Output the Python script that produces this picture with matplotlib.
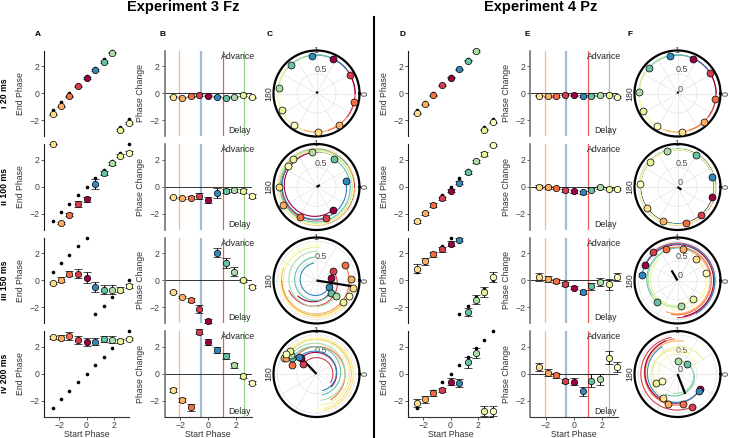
import numpy as np
import matplotlib
matplotlib.use("Agg")
import matplotlib.pyplot as plt
from matplotlib.lines import Line2D

plt.rcParams.update({
    "font.family": ["Liberation Sans", "DejaVu Sans"],
    "font.size": 6.3,
    "axes.linewidth": 0.8,
    "xtick.labelsize": 6.3,
    "ytick.labelsize": 6.3,
})

# start phase bins (rad) and their colours
START = [-2.51, -1.88, -1.26, -0.63, 0.0, 0.63, 1.26, 1.88, 2.51, 3.14]
COLORS = ["#fee08b", "#fdae61", "#f46d43", "#d53e4f", "#9e0142",
          "#3288bd", "#66c2a5", "#abdda4", "#e6f598", "#ffffbf"]
ROW_LABELS = ["i 20 ms", "ii 100 ms", "iii 150 ms", "iv 200 ms"]

# expected end phase without stimulation (black dots)
EXPECTED = [
    [-1.26, -0.63, 0.0, 0.63, 1.26, 1.88, 2.51, 3.14, -2.51, -1.88],
    [-2.51, -1.88, -1.26, -0.63, 0.0, 0.63, 1.26, 1.88, 2.51, 3.14],
    [0.63, 1.26, 1.88, 2.51, 3.14, -2.51, -1.88, -1.26, -0.63, 0.0],
    [-2.51, -1.88, -1.26, -0.63, 0.0, 0.63, 1.26, 1.88, 2.51, 3.14],
]

# ---- Experiment 3 Fz ----
fz_end = [
    [-1.53, -0.95, -0.23, 0.51, 1.13, 1.70, 2.29, 2.99, -2.69, -2.19],
    [3.14, -2.65, -2.06, -1.27, -0.93, 0.20, 1.00, 1.71, 2.28, 2.50],
    [-0.20, 0.05, 0.49, 0.49, 0.17, -0.49, -0.68, -0.68, -0.68, -0.44],
    [2.69, 2.66, 2.78, 2.49, 2.36, 2.36, 2.56, 2.51, 2.43, 2.56],
]
fz_end_err = [
    [0.04, 0.04, 0.04, 0.05, 0.05, 0.05, 0.05, 0.05, 0.05, 0.05],
    [0.03, 0.08, 0.10, 0.20, 0.20, 0.35, 0.15, 0.10, 0.12, 0.12],
    [0.10, 0.20, 0.20, 0.35, 0.40, 0.35, 0.35, 0.30, 0.15, 0.15],
    [0.10, 0.20, 0.30, 0.30, 0.30, 0.25, 0.20, 0.25, 0.15, 0.10],
]
fz_change = [
    [-0.25, -0.32, -0.22, -0.12, -0.17, -0.25, -0.32, -0.25, -0.12, -0.30],
    [-0.76, -0.80, -0.80, -0.68, -0.98, -0.46, -0.31, -0.27, -0.31, -0.68],
    [-0.86, -1.23, -1.47, -2.10, -3.00, 2.03, 1.27, 0.64, 0.00, -0.46],
    [-1.20, -1.90, -2.46, 3.10, 2.34, 1.74, 1.29, 0.62, -0.15, -0.65],
]
fz_change_err = [
    [0.04, 0.04, 0.04, 0.05, 0.05, 0.05, 0.05, 0.05, 0.05, 0.05],
    [0.03, 0.08, 0.10, 0.20, 0.20, 0.35, 0.15, 0.10, 0.12, 0.12],
    [0.10, 0.10, 0.15, 0.30, 0.15, 0.35, 0.35, 0.30, 0.10, 0.10],
    [0.12, 0.15, 0.25, 0.20, 0.25, 0.20, 0.20, 0.20, 0.15, 0.12],
]
fz_vec_r = [
    [0.98, 0.98, 0.98, 0.98, 0.98, 0.98, 0.98, 0.98, 0.98, 0.98],
    [0.97, 0.97, 0.88, 0.84, 0.72, 0.76, 0.84, 0.90, 0.94, 0.91],
    [0.96, 0.89, 0.83, 0.49, 0.37, 0.36, 0.49, 0.64, 0.87, 0.93],
    [0.92, 0.88, 0.68, 0.42, 0.57, 0.62, 0.75, 0.82, 0.90, 0.93],
]
fz_curve_start = [
    [-144, -108, -72, -36, 0, 36, 72, 108, 144, 180],
    [-144, -108, -72, -36, 0, 36, 72, 108, 144, 180],
    [150, 160, 180, 200, 220, 100, 95, 90, 85, 80],
    [-80, -75, -60, -30, -40, -70, -75, -80, -85, -90],
]
fz_curve_r0 = [
    [0.99, 0.99, 0.99, 0.99, 0.99, 0.99, 0.99, 0.99, 0.99, 0.99],
    [0.97, 0.97, 0.97, 0.97, 0.97, 0.97, 0.97, 0.97, 0.97, 0.97],
    [0.92, 0.90, 0.88, 0.75, 0.62, 0.45, 0.60, 0.75, 0.85, 0.92],
    [0.95, 0.90, 0.75, 0.42, 0.50, 0.45, 0.55, 0.68, 0.80, 0.90],
]
fz_mean_ang = [1.0, 0.5, -0.16, 2.33]
fz_mean_r = [0.06, 0.10, 0.92, 0.55]

# ---- Experiment 4 Pz ----
pz_end = [
    [-1.46, -0.82, -0.15, 0.57, 1.14, 1.76, 2.40, 3.10, -2.67, -2.13],
    [-2.55, -1.96, -1.35, -0.86, -0.29, 0.29, 1.05, 1.86, 2.40, 3.07],
    [0.86, 1.40, 1.91, 2.28, 2.70, 2.99, -2.33, -1.42, -0.86, 0.25],
    [-2.12, -1.87, -1.40, -1.17, -0.57, -0.65, 0.84, 1.54, -2.74, -2.74],
]
pz_end_err = [
    [0.04, 0.04, 0.04, 0.05, 0.05, 0.05, 0.05, 0.05, 0.05, 0.05],
    [0.10, 0.10, 0.12, 0.12, 0.12, 0.12, 0.10, 0.10, 0.12, 0.10],
    [0.30, 0.25, 0.20, 0.20, 0.20, 0.10, 0.30, 0.35, 0.40, 0.35],
    [0.30, 0.25, 0.20, 0.15, 0.25, 0.30, 0.40, 0.35, 0.40, 0.35],
]
pz_change = [
    [-0.17, -0.22, -0.20, -0.10, -0.15, -0.20, -0.17, -0.15, -0.10, -0.27],
    [0.00, -0.05, -0.10, -0.25, -0.34, -0.42, -0.22, -0.05, -0.17, -0.17],
    [0.25, 0.10, -0.07, -0.29, -0.54, -0.83, -0.44, -0.12, -0.29, 0.25],
    [0.50, 0.07, -0.12, -0.50, -0.57, -1.30, -0.50, -0.40, 1.19, 0.50],
]
pz_change_err = [
    [0.04, 0.04, 0.04, 0.05, 0.05, 0.05, 0.05, 0.05, 0.05, 0.05],
    [0.12, 0.10, 0.10, 0.10, 0.10, 0.10, 0.10, 0.12, 0.10, 0.10],
    [0.30, 0.20, 0.15, 0.15, 0.10, 0.15, 0.25, 0.30, 0.40, 0.30],
    [0.30, 0.25, 0.20, 0.15, 0.25, 0.30, 0.45, 0.40, 0.45, 0.35],
]
pz_vec_r = [
    [0.98, 0.98, 0.98, 0.98, 0.98, 0.98, 0.98, 0.98, 0.98, 0.98],
    [0.95, 0.95, 0.95, 0.94, 0.93, 0.93, 0.94, 0.95, 0.95, 0.95],
    [0.73, 0.82, 0.85, 0.96, 0.91, 0.92, 0.76, 0.67, 0.62, 0.74],
    [0.71, 0.80, 0.79, 0.92, 0.69, 0.70, 0.35, 0.33, 0.60, 0.43],
]
pz_curve_start = [
    [-144, -108, -72, -36, 0, 36, 72, 108, 144, 180],
    [-144, -108, -72, -36, 0, 36, 72, 108, 144, 180],
    [-100, -110, -100, -90, -80, -60, 60, 120, 130, -150],
    [60, 80, 95, 100, 110, 120, -120, -100, 30, 20],
]
pz_curve_r0 = [
    [0.99, 0.99, 0.99, 0.99, 0.99, 0.99, 0.99, 0.99, 0.99, 0.99],
    [0.97, 0.97, 0.97, 0.97, 0.97, 0.97, 0.97, 0.97, 0.97, 0.97],
    [0.75, 0.85, 0.88, 0.95, 0.93, 0.97, 0.85, 0.80, 0.72, 0.75],
    [0.60, 0.85, 0.90, 0.95, 0.90, 0.80, 0.60, 0.50, 0.75, 0.60],
]
pz_mean_ang = [1.2, -0.6, 2.1, -1.2]
pz_mean_r = [0.05, 0.12, 0.30, 0.55]

# boundaries shown as vertical lines in the phase-change panels
VLINE_COLORS = ["#fdb97d", "#a3bdd8", "#ef5b55", "#92d38c"]
VLINE_WIDTHS = [0.9, 1.6, 0.9, 0.9]
fz_vlines = [-2.08, -0.50, 1.05, 2.60]
pz_vlines = [-2.10, -0.58, 1.01, 2.56]

W, H = 729, 438
fig = plt.figure(figsize=(W / 100, H / 100), dpi=100)

ROW_TOP = [50.5, 144.0, 237.5, 331.0]
ROW_H = 85.5


def box(left, top, w, h):
    return [left / W, 1 - (top + h) / H, w / W, h / H]


def style_cart(ax, row, spine_color):
    ax.set_xlim(-np.pi, np.pi)
    ax.set_ylim(-np.pi, np.pi)
    ax.set_yticks([-2, 0, 2])
    ax.set_xticks([-2, 0, 2])
    for s in ["top", "right"]:
        ax.spines[s].set_visible(False)
    ax.spines["left"].set_color(spine_color)
    ax.spines["bottom"].set_color("0.2")
    ax.tick_params(length=2, width=0.6, pad=1.5, colors="0.25")
    if row < 3:
        ax.spines["bottom"].set_visible(False)
        ax.tick_params(axis="x", bottom=False, labelbottom=False)
    else:
        ax.set_xlabel("Start Phase", color="0.2", labelpad=0)


def points(ax, vals, errs):
    for k in range(10):
        ax.errorbar(START[k], vals[k], yerr=errs[k], fmt="o", ms=4.6,
                    mfc=COLORS[k], mec="k", mew=0.5, ecolor="k",
                    elinewidth=0.7, capsize=2.6, capthick=0.7, zorder=3,
                    clip_on=False)


def draw_end(ax, row, end, err):
    style_cart(ax, row, "0.1")
    ax.plot(START, EXPECTED[row], "o", ms=1.6, color="k", zorder=2, clip_on=False)
    points(ax, end, err)
    ax.set_ylabel("End Phase", color="0.2", labelpad=3)


def draw_change(ax, row, change, err, vlines):
    style_cart(ax, row, "0.45")
    ax.spines["left"].set_linewidth(1.2)
    for xv, c, lw in zip(vlines, VLINE_COLORS, VLINE_WIDTHS):
        ax.axvline(xv, color=c, lw=lw, zorder=1)
    ax.axhline(0, color="0.2", lw=0.7, zorder=1)
    points(ax, change, err)
    ax.set_ylabel("Phase Change", color="0.2", labelpad=3)
    ax.text(1.04, 0.93, "Advance", transform=ax.transAxes, ha="right", va="center", color="0.15")
    ax.text(0.99, 0.06, "Delay", transform=ax.transAxes, ha="right", va="center", color="0.15")


def draw_polar(ax, end, vec_r, c_start, c_r0, m_ang, m_r, show_zero):
    ax.set_ylim(0, 1.1)
    ax.set_xticks(np.deg2rad(np.arange(0, 360, 30)))
    ax.set_xticklabels([])
    if show_zero:
        ax.set_yticks([0, 0.5, 1])
        ax.set_yticklabels(["0", "0.5", "1"])
    else:
        ax.set_yticks([0.5, 1])
        ax.set_yticklabels(["0.5", "1"])
    ax.set_rlabel_position(95)
    ax.tick_params(axis="y", labelsize=6.5, labelcolor="0.3", pad=0)
    ax.tick_params(axis="x", pad=0)
    ax.grid(color="#e4e4e4", lw=0.5)
    ax.spines["polar"].set_linewidth(1.6)
    for k in range(10):
        th0 = np.deg2rad(c_start[k])
        th1 = th0 + np.mod(end[k] - th0, 2 * np.pi)
        ln, = ax.plot([th0, th1], [c_r0[k], vec_r[k]], color=COLORS[k], lw=0.8, zorder=2)
        ln.get_path()._interpolation_steps = 180
    ax.plot([m_ang, m_ang], [0, m_r], color="k", lw=1.6, zorder=4,
            solid_capstyle="butt")
    for k in range(10):
        ax.plot(end[k], vec_r[k], "o", ms=5, mfc=COLORS[k], mec="k", mew=0.5,
                zorder=5, clip_on=False)
    ax.text(0, 1.24, "0", rotation=90, ha="center", va="center", color="0.2")
    ax.text(np.pi, 1.22, "180", rotation=90, ha="center", va="center", color="0.2")


experiments = [
    dict(end=fz_end, end_err=fz_end_err, change=fz_change, change_err=fz_change_err,
         vec_r=fz_vec_r, cs=fz_curve_start, cr=fz_curve_r0, ma=fz_mean_ang, mr=fz_mean_r,
         vlines=fz_vlines, xa=44, xb=164.5, xc=316.5, zero=False),
    dict(end=pz_end, end_err=pz_end_err, change=pz_change, change_err=pz_change_err,
         vec_r=pz_vec_r, cs=pz_curve_start, cr=pz_curve_r0, ma=pz_mean_ang, mr=pz_mean_r,
         vlines=pz_vlines, xa=408, xb=530, xc=677.5, zero=True),
]

for e in experiments:
    for row in range(4):
        top = ROW_TOP[row]
        ax_a = fig.add_axes(box(e["xa"], top, 85, ROW_H))
        draw_end(ax_a, row, e["end"][row], e["end_err"][row])
        ax_b = fig.add_axes(box(e["xb"], top, 87.5, ROW_H))
        draw_change(ax_b, row, e["change"][row], e["change_err"][row], e["vlines"])
        ax_c = fig.add_axes(box(e["xc"] - 43, top, 86, 86), projection="polar")
        draw_polar(ax_c, e["end"][row], e["vec_r"][row], e["cs"][row], e["cr"][row],
                   e["ma"][row], e["mr"][row], e["zero"])

# titles, letters, row labels, separator
fig.text(183 / W, 1 - 7 / H, "Experiment 3 Fz", ha="center", va="center",
         fontsize=10.5, weight="bold")
fig.text(541 / W, 1 - 7 / H, "Experiment 4 Pz", ha="center", va="center",
         fontsize=10.5, weight="bold")
for letter, xp in zip("ABCDEF", [38, 163, 270, 402, 527, 630]):
    fig.text(xp / W, 1 - 34 / H, letter, ha="center", va="center",
             fontsize=6, weight="bold")
for label, top in zip(ROW_LABELS, ROW_TOP):
    fig.text(5 / W, 1 - (top + ROW_H / 2) / H, label, rotation=90,
             ha="center", va="center", fontsize=6.3, weight="bold")
fig.add_artist(Line2D([374 / W, 374 / W], [0, 1 - 17 / H], color="k", lw=1.5,
                      transform=fig.transFigure))

fig.savefig("out.png", dpi=100)
